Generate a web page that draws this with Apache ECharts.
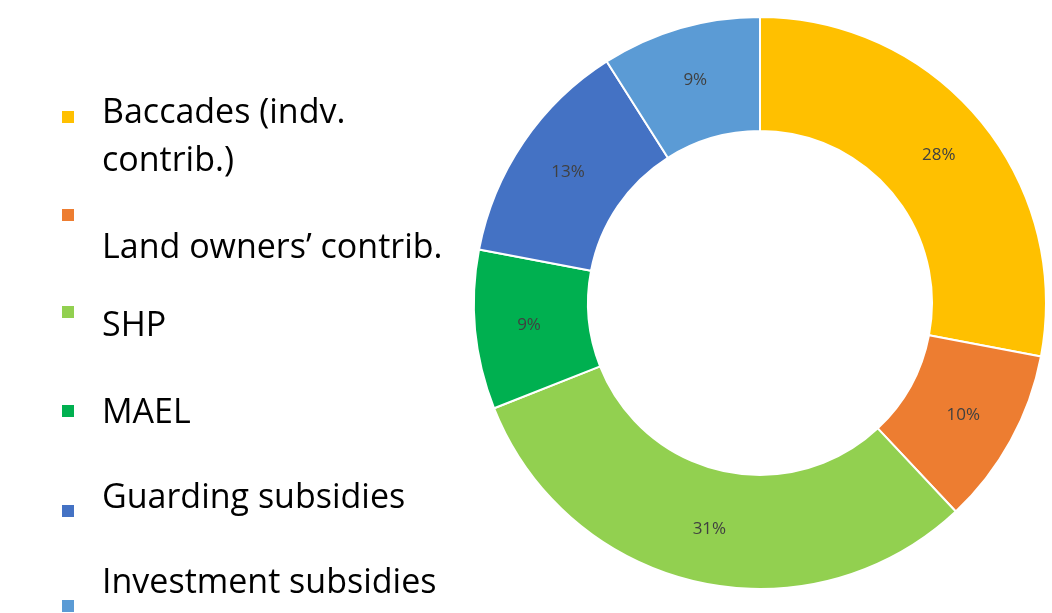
<!DOCTYPE html>
<html>
<head>
<meta charset="utf-8">
<script src="https://cdn.jsdelivr.net/npm/echarts@6/dist/echarts.min.js"></script>
<style>
html,body{margin:0;padding:0;background:#fff;}
#chart{width:1052px;height:613px;}
</style>
</head>
<body>
<div id="chart"></div>
<script>
const categories = ['Baccades (indv. contrib.)', 'Land owners\u2019 contrib.', 'SHP', 'MAEL', 'Guarding subsidies', 'Investment subsidies'];
const values = [28, 10, 31, 9, 13, 9];
const colors = ['#FFC000', '#ED7D31', '#92D050', '#00B050', '#4472C4', '#5B9BD5'];
const legendLines = [['Baccades (indv.', 'contrib.)'], ['Land owners\u2019 contrib.'], ['SHP'], ['MAEL'], ['Guarding subsidies'], ['Investment subsidies']];

// layout of the custom legend (marker centre y, first text line centre y)
const markerY = [117, 215, 312, 411, 511, 606];
const textY = [113, 248, 326, 413, 498, 583];
const lineH = 48;

const chart = echarts.init(document.getElementById('chart'), null, {renderer: 'canvas'});

const graphics = [];
categories.forEach((c, i) => {
  graphics.push({
    type: 'rect', left: 62, top: markerY[i] - 6,
    shape: {width: 12, height: 12},
    style: {fill: colors[i]}
  });
  legendLines[i].forEach((ln, j) => {
    graphics.push({
      type: 'text', x: 102, y: textY[i] + j * lineH,
      style: {text: ln, fill: '#000', font: '34px "Open Sans"', textVerticalAlign: 'middle', verticalAlign: 'middle'}
    });
  });
});

chart.setOption({
  animation: false,
  backgroundColor: '#fff',
  graphic: graphics,
  series: [{
    type: 'pie',
    center: [760, 303],
    radius: [172, 286],
    startAngle: 90,
    clockwise: true,
    avoidLabelOverlap: false,
    itemStyle: {borderColor: '#fff', borderWidth: 2},
    label: {
      show: true, position: 'inside',
      formatter: p => Math.round(p.percent) + '%',
      color: '#404040', fontSize: 17, fontFamily: 'Open Sans'
    },
    labelLine: {show: false},
    emphasis: {disabled: true},
    data: categories.map((c, i) => ({name: c, value: values[i], itemStyle: {color: colors[i]}}))
  }]
});
</script>
</body>
</html>
